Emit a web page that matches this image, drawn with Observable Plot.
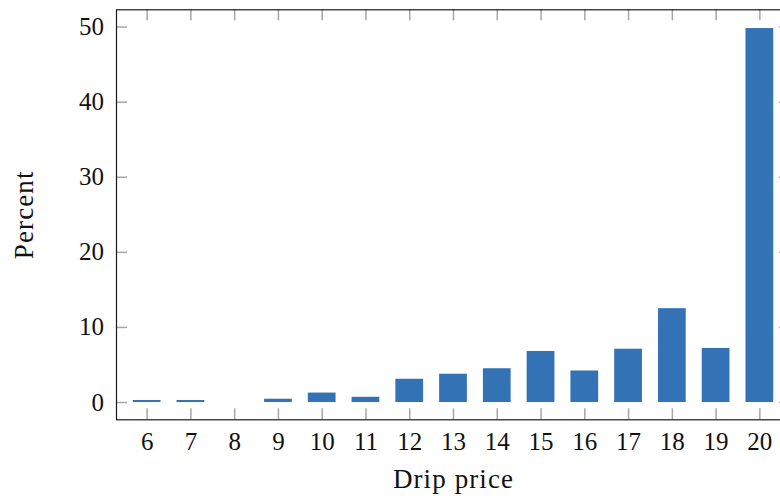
<!DOCTYPE html>
<html>
<head>
<meta charset="utf-8">
<script src="https://cdn.jsdelivr.net/npm/d3@7"></script>
<script src="https://cdn.jsdelivr.net/npm/@observablehq/plot@0.6"></script>
<style>
  html, body { margin: 0; padding: 0; background: #fff; overflow: hidden; }
  #chart svg { overflow: hidden; }
  #chart g[aria-description="axis-title"] text { letter-spacing: 1.1px; }
</style>
</head>
<body>
<div id="chart"></div>
<script>
const prices = [6, 7, 8, 9, 10, 11, 12, 13, 14, 15, 16, 17, 18, 19, 20];
const percents = [0.27, 0.27, 0, 0.44, 1.26, 0.7, 3.1, 3.77, 4.5, 6.8, 4.2, 7.1, 12.5, 7.2, 49.8];
const xTicks = [6, 7, 8, 9, 10, 11, 12, 13, 14, 15, 16, 17, 18, 19, 20];
const yTicks = [0, 10, 20, 30, 40, 50];
const xLabel = "Drip price";
const yLabel = "Percent";

const data = prices.map((p, i) => ({price: p, pct: percents[i]}));
const halfBar = 0.317;
const font = "'Liberation Serif', 'Times New Roman', serif";

const W = 780, H = 496;
const mL = 116, mR = -10, mT = 9.3, mB = 76.7;
const plotW = W - mL - mR, plotH = H - mT - mB;
const tickLen = 11;

const chart = Plot.plot({
  width: W,
  height: H,
  marginLeft: mL,
  marginRight: mR,
  marginTop: mT,
  marginBottom: mB,
  style: {fontFamily: font, fontSize: "25px", color: "#111", background: "#fff"},
  x: {domain: [5.3, 20.7]},
  y: {domain: [-2.3, 52.3]},
  marks: [
    Plot.rectY(data, {x1: d => d.price - halfBar, x2: d => d.price + halfBar, y: "pct", fill: "#3373b5"}),
    // inward tick marks
    Plot.ruleX(xTicks, {stroke: "#a6a6a6", strokeWidth: 1.5, insetBottom: plotH - tickLen}),
    Plot.ruleX(xTicks, {stroke: "#a6a6a6", strokeWidth: 1.5, insetTop: plotH - tickLen}),
    Plot.ruleY(yTicks, {stroke: "#a6a6a6", strokeWidth: 1.5, insetRight: plotW - tickLen}),
    Plot.ruleY(yTicks, {stroke: "#a6a6a6", strokeWidth: 1.5, insetLeft: plotW - tickLen}),
    Plot.frame({stroke: "#1a1a1a", strokeWidth: 1.2}),
    Plot.axisX(xTicks, {tickSize: 0, tickPadding: 12, label: null, fontSize: 25}),
    Plot.axisY(yTicks, {tickSize: 0, tickPadding: 12.5, label: null, fontSize: 25}),
    Plot.text([xLabel], {frameAnchor: "bottom", textAnchor: "middle", lineAnchor: "middle", dy: 60, fontSize: 27, fill: "#111", ariaDescription: "axis-title"}),
    Plot.text([yLabel], {frameAnchor: "left", textAnchor: "middle", lineAnchor: "middle", dx: -92, rotate: -90, fontSize: 27, fill: "#111", ariaDescription: "axis-title"})
  ]
});
document.getElementById("chart").appendChild(chart);
</script>
</body>
</html>
